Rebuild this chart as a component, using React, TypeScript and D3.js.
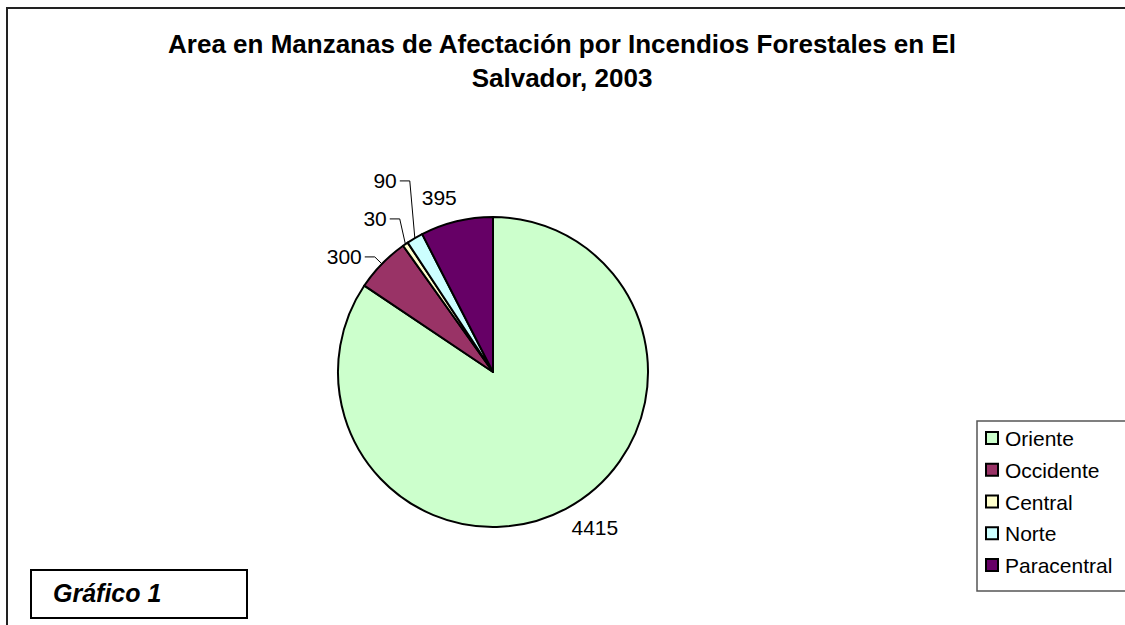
import { useEffect, useRef } from 'react';
import * as d3 from 'd3';

const regions = ['Oriente', 'Occidente', 'Central', 'Norte', 'Paracentral'];
const areas = [4415, 300, 30, 90, 395];
const colors = ['#CCFFCC', '#993366', '#FFFFCC', '#CCFFFF', '#660066'];
const titleLines = ['Area en Manzanas de Afectación por Incendios Forestales en El', 'Salvador, 2003'];
const caption = 'Gráfico 1';

const FONT = 'Arial, "Liberation Sans", sans-serif';

export default function App() {
  const ref = useRef<SVGSVGElement>(null);

  useEffect(() => {
    const width = 1125;
    const height = 625;
    const cx = 493;
    const cy = 372;
    const r = 155;

    const svg = d3.select(ref.current);
    svg.selectAll('*').remove();

    svg.append('rect').attr('width', width).attr('height', height).attr('fill', '#fff');

    // outer chart frame (runs off the right and bottom edges)
    svg.append('rect')
      .attr('x', 7).attr('y', 8)
      .attr('width', width + 20).attr('height', height + 20)
      .attr('fill', 'none').attr('stroke', '#222').attr('stroke-width', 2);

    // title
    svg.append('text')
      .attr('text-anchor', 'middle')
      .attr('font-family', FONT).attr('font-weight', 'bold').attr('font-size', 26)
      .selectAll('tspan').data(titleLines).join('tspan')
      .attr('x', 562).attr('y', (_, i) => 53 + i * 34)
      .text(d => d);

    const data = regions.map((name, i) => ({ name, value: areas[i], color: colors[i] }));
    const pie = d3.pie<any>().value(d => d.value).sort(null).startAngle(0).endAngle(2 * Math.PI);
    const arcs = pie(data);
    const arc = d3.arc<any>().innerRadius(0).outerRadius(r);

    const g = svg.append('g').attr('transform', `translate(${cx},${cy})`);
    g.selectAll('path').data(arcs).join('path')
      .attr('d', arc)
      .attr('fill', d => d.data.color)
      .attr('stroke', '#000').attr('stroke-width', 2).attr('stroke-linejoin', 'round');

    // labels
    const fs = 21;
    const polar = (a: number, rad: number) => [Math.sin(a) * rad, -Math.cos(a) * rad];
    const lg = g.append('g').attr('font-family', FONT).attr('font-size', fs).attr('fill', '#000');

    const leaders: any[] = [];
    arcs.forEach(d => {
      const mid = (d.startAngle + d.endAngle) / 2;
      const span = d.endAngle - d.startAngle;
      if (span < (25 * Math.PI) / 180) {
        const [ex, ey] = polar(mid, r);
        const [kx, ky] = polar(mid, r + 10);
        leaders.push({ d, ex, ey, kx, ky });
      } else {
        const [px, py] = polar(mid, r + 12);
        const right = Math.sin(mid) >= 0;
        const lower = -Math.cos(mid) >= 0;
        lg.append('text')
          .attr('x', right ? px : px + 3).attr('y', lower ? py + 16 : py - 5)
          .attr('text-anchor', right ? 'start' : 'end')
          .text(d.data.value);
      }
    });

    // stack leader labels upward so they don't collide
    leaders.sort((a, b) => b.ky - a.ky);
    for (let i = 1; i < leaders.length; i++) {
      leaders[i].ky = Math.min(leaders[i].ky, leaders[i - 1].ky - 38);
    }
    leaders.forEach(l => {
      const hx = l.kx - 10;
      lg.append('path')
        .attr('d', d3.line()([[hx, l.ky], [l.kx, l.ky], [l.ex, l.ey]]))
        .attr('fill', 'none').attr('stroke', '#000').attr('stroke-width', 1);
      lg.append('text')
        .attr('x', hx - 3).attr('y', l.ky + 7)
        .attr('text-anchor', 'end')
        .text(l.d.data.value);
    });

    // legend
    const legend = svg.append('g');
    legend.append('rect')
      .attr('x', 977).attr('y', 421).attr('width', 160).attr('height', 170)
      .attr('fill', '#fff').attr('stroke', '#555').attr('stroke-width', 1.5);
    const row = d3.scalePoint<string>().domain(regions).range([438, 565]);
    const items = legend.selectAll('g.item').data(data).join('g')
      .attr('class', 'item')
      .attr('transform', d => `translate(986,${row(d.name)})`);
    items.append('rect')
      .attr('x', 0).attr('y', -6).attr('width', 12).attr('height', 12)
      .attr('fill', d => d.color).attr('stroke', '#000').attr('stroke-width', 2);
    items.append('text')
      .attr('x', 19).attr('y', 8)
      .attr('font-family', FONT).attr('font-size', fs)
      .text(d => d.name);

    // caption box
    svg.append('rect')
      .attr('x', 31).attr('y', 570).attr('width', 216).attr('height', 48)
      .attr('fill', '#fff').attr('stroke', '#000').attr('stroke-width', 2);
    svg.append('text')
      .attr('x', 53).attr('y', 602)
      .attr('font-family', FONT).attr('font-weight', 'bold').attr('font-style', 'italic').attr('font-size', 25)
      .text(caption);
  }, []);

  return (
    <svg
      ref={ref}
      width={1125}
      height={625}
      style={{ position: 'absolute', left: 0, top: 0, display: 'block' }}
    />
  );
}
